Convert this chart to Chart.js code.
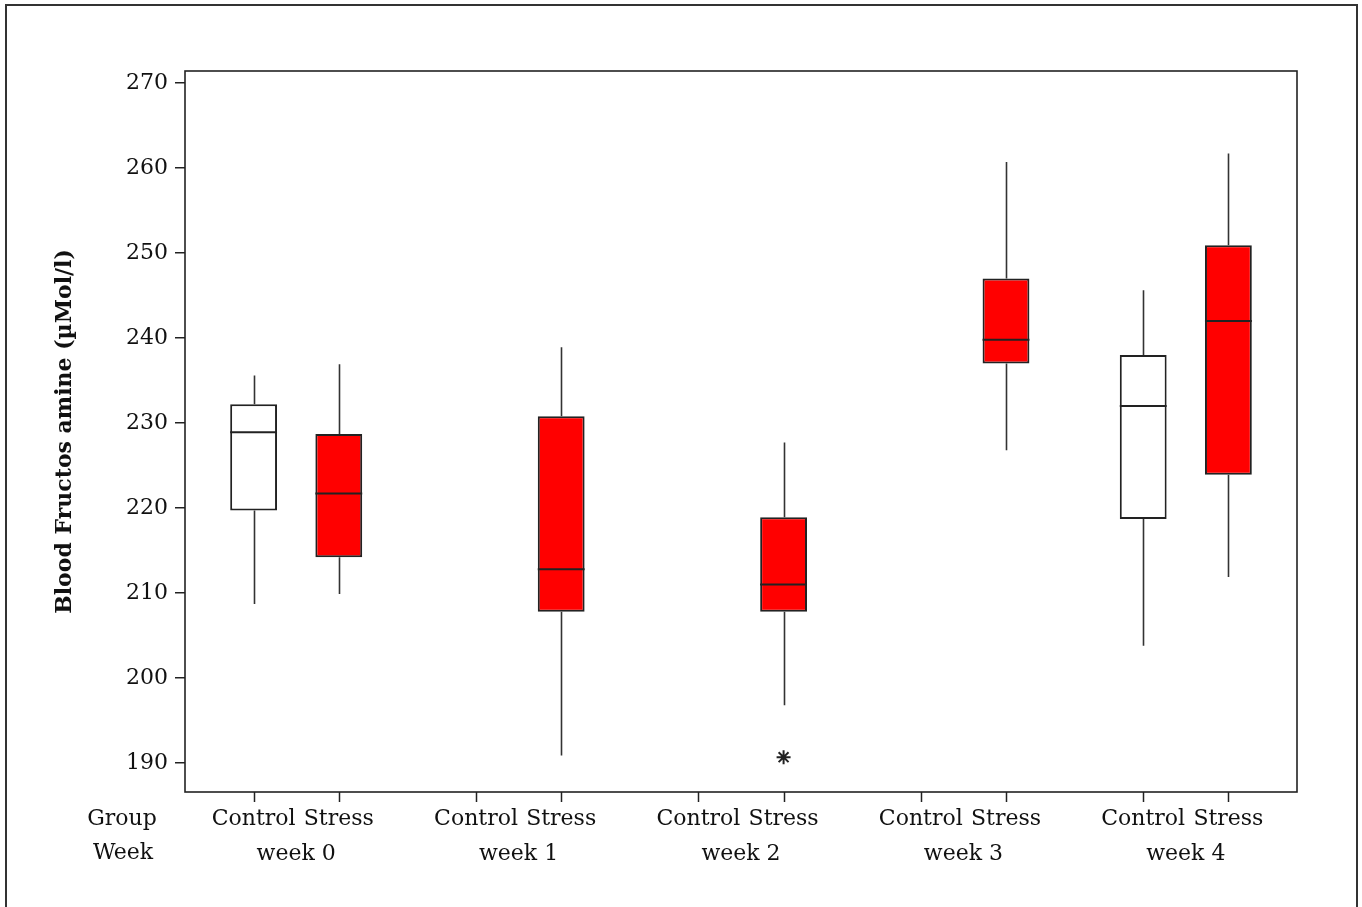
<!DOCTYPE html>
<html>
<head>
<meta charset="utf-8">
<script src="https://cdn.jsdelivr.net/npm/chart.js@4.4.1/dist/chart.umd.min.js"></script>
<style>
  html, body { margin: 0; padding: 0; background: #fff; }
  canvas { display: block; }
</style>
</head>
<body>
<canvas id="chart" width="1362" height="907"></canvas>
<script>
'use strict';

/* ── DATA ── */
const weeks  = ['week 0', 'week 1', 'week 2', 'week 3', 'week 4'];
const groups = ['Control', 'Stress'];
const yTicks = [190, 200, 210, 220, 230, 240, 250, 260, 270];

// [min, q1, median, q3, max] per week, null = no box
const controlStats = [
  [208.7, 219.7, 228.9, 232.2, 235.6],
  null,
  null,
  null,
  [203.8, 218.7, 232.0, 238.0, 245.6],
];
const stressStats = [
  [209.9, 214.2, 221.7, 228.7, 236.9],
  [190.9, 207.8, 212.8, 230.8, 238.9],
  [196.8, 207.8, 211.0, 218.9, 227.7],
  [226.8, 237.0, 239.8, 247.0, 260.7],
  [211.9, 223.9, 242.0, 250.9, 261.7],
];
const controlOutliers = [[], [], [], [], []];
const stressOutliers  = [[], [], [190.7], [], []];

const SERIF = '"DejaVu Serif", "Liberation Serif", serif';
const INK   = '#222';

/* ── BOX PLOT PLUGIN : whiskers, medians, outliers, frame, group labels ── */
const boxPlot = {
  id: 'boxPlot',
  afterDatasetsDraw(chart) {
    const { ctx, scales: { y } } = chart;
    ctx.save();
    chart.data.datasets.forEach((ds, di) => {
      const meta = chart.getDatasetMeta(di);
      ds.stats.forEach((s, i) => {
        if (!s) return;
        const bar  = meta.data[i];
        const x    = Math.round(bar.x) + 0.5;
        const half = bar.width / 2;

        ctx.strokeStyle = '#333';
        ctx.lineWidth = 1.6;
        ctx.beginPath();
        ctx.moveTo(x, y.getPixelForValue(s[3]));
        ctx.lineTo(x, y.getPixelForValue(s[4]));
        ctx.moveTo(x, y.getPixelForValue(s[1]));
        ctx.lineTo(x, y.getPixelForValue(s[0]));
        ctx.stroke();

        ctx.strokeStyle = INK;
        ctx.lineWidth = 2;
        ctx.beginPath();
        const ym = y.getPixelForValue(s[2]);
        ctx.moveTo(bar.x - half, ym);
        ctx.lineTo(bar.x + half, ym);
        ctx.stroke();

        (ds.outliers[i] || []).forEach(v => {
          Chart.helpers.drawPoint(ctx, {
            pointStyle: 'star', radius: 7, borderWidth: 1,
          }, bar.x, y.getPixelForValue(v));
        });
      });
    });
    ctx.restore();
  },
  afterDraw(chart) {
    const { ctx, chartArea: a } = chart;
    ctx.save();

    /* outer frame */
    ctx.strokeStyle = '#333';
    ctx.lineWidth = 2;
    ctx.strokeRect(6, 5, 1351, 1000);

    /* plot frame */
    ctx.strokeStyle = INK;
    ctx.lineWidth = 1.6;
    ctx.strokeRect(a.left, a.top, a.right - a.left, a.bottom - a.top);

    /* x ticks + group labels under each box slot */
    ctx.font = '22px ' + SERIF;
    ctx.fillStyle = '#111';
    ctx.textAlign = 'center';
    ctx.textBaseline = 'middle';
    chart.data.datasets.forEach((ds, di) => {
      const meta = chart.getDatasetMeta(di);
      meta.data.forEach(bar => {
        const x = Math.round(bar.x) + 0.5;
        ctx.lineWidth = 1.5;
        ctx.beginPath();
        ctx.moveTo(x, a.bottom);
        ctx.lineTo(x, a.bottom + 10);
        ctx.stroke();
        ctx.fillText(ds.label, bar.x, 819);
      });
    });

    ctx.fillText('Group', 122, 819);
    ctx.fillText('Week', 123, 853);
    ctx.restore();
  },
};

/* ── CHART ── */
const toBox = stats => stats.map(s => (s ? [s[1], s[3]] : null));

new Chart(document.getElementById('chart'), {
  type: 'bar',
  data: {
    labels: weeks,
    datasets: [
      {
        label: groups[0],
        data: toBox(controlStats),
        stats: controlStats,
        outliers: controlOutliers,
        backgroundColor: '#ffffff',
        borderColor: INK,
        borderWidth: 2,
        borderSkipped: false,
      },
      {
        label: groups[1],
        data: toBox(stressStats),
        stats: stressStats,
        outliers: stressOutliers,
        backgroundColor: '#ff0000',
        borderColor: INK,
        borderWidth: 2,
        borderSkipped: false,
      },
    ],
  },
  options: {
    responsive: false,
    animation: false,
    devicePixelRatio: 1,
    categoryPercentage: 0.766,
    barPercentage: 0.55,
    layout: { padding: { top: 71, right: 65, bottom: 0, left: 0 } },
    plugins: {
      legend: { display: false },
      tooltip: { enabled: false },
    },
    scales: {
      x: {
        grid: { display: false },
        border: { display: false },
        ticks: { font: { family: SERIF, size: 22 }, color: '#111', padding: 41 },
        afterFit: s => { s.height = 115; },
      },
      y: {
        min: 186.6,
        max: 271.4,
        afterBuildTicks: s => { s.ticks = yTicks.map(v => ({ value: v })); },
        grid: {
          drawOnChartArea: false,
          drawTicks: true,
          tickLength: 10,
          color: INK,
          lineWidth: 1.5,
        },
        border: { display: false },
        ticks: { font: { family: SERIF, size: 22 }, color: '#111', padding: 7 },
        title: {
          display: true,
          text: 'Blood Fructos amine (µMol/l)',
          font: { family: SERIF, size: 22, weight: 'bold' },
          color: '#111',
          padding: { top: 52, bottom: 0 },
        },
        afterFit: s => { s.width = 185; },
      },
    },
  },
  plugins: [boxPlot],
});
</script>
</body>
</html>
